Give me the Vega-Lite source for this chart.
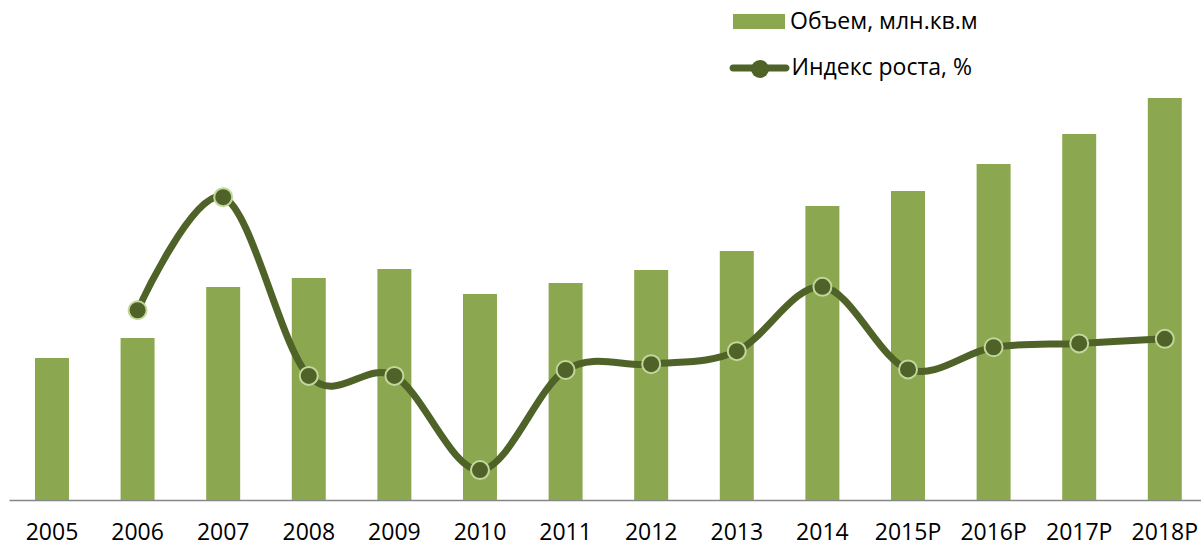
{
  "$schema": "https://vega.github.io/schema/vega-lite/v6.json",
  "autosize": "none",
  "width": 1192,
  "height": 490,
  "padding": {"left": 9, "top": 10, "right": 0, "bottom": 45},
  "config": {"view": {"stroke": null}, "font": "Open Sans"},
  "data": {"values": [
    {"year": "2005", "vol": 14.2, "idx": null},
    {"year": "2006", "vol": 16.2, "idx": 113.6},
    {"year": "2007", "vol": 21.3, "idx": 131.0},
    {"year": "2008", "vol": 22.2, "idx": 103.5},
    {"year": "2009", "vol": 23.1, "idx": 103.5},
    {"year": "2010", "vol": 20.6, "idx": 89.0},
    {"year": "2011", "vol": 21.7, "idx": 104.4},
    {"year": "2012", "vol": 23.0, "idx": 105.3},
    {"year": "2013", "vol": 24.9, "idx": 107.3},
    {"year": "2014", "vol": 29.4, "idx": 117.2},
    {"year": "2015P", "vol": 30.9, "idx": 104.5},
    {"year": "2016P", "vol": 33.6, "idx": 107.9},
    {"year": "2017P", "vol": 36.6, "idx": 108.5},
    {"year": "2018P", "vol": 40.2, "idx": 109.2}
  ]},
  "encoding": {
    "x": {
      "field": "year", "type": "nominal", "sort": null,
      "scale": {"paddingInner": 0.603, "paddingOuter": 0.264, "align": 0.575},
      "axis": {
        "title": null, "labelAngle": 0, "ticks": false, "grid": false,
        "domainColor": "#868686", "domainWidth": 1.5,
        "labelFontSize": 23, "labelColor": "#000000", "labelFont": "Open Sans",
        "labelBaseline": "alphabetic", "labelPadding": 39
      }
    }
  },
  "layer": [
    {
      "mark": {"type": "bar"},
      "encoding": {
        "y": {"field": "vol", "type": "quantitative", "scale": {"domain": [0, 49]}, "axis": null},
        "fill": {
          "datum": "Объем, млн.кв.м",
          "scale": {"range": ["#8BA74F"]},
          "legend": {
            "orient": "none", "legendX": 724, "legendY": -14.5, "title": null,
            "symbolType": "M-1,-0.2885H1V0.2885H-1Z", "symbolSize": 2704,
            "symbolFillColor": "#8BA74F", "symbolStrokeWidth": 0,
            "labelFontSize": 23, "labelFont": "Open Sans", "labelColor": "#000000",
            "labelLimit": 400, "labelOffset": 5
          }
        }
      }
    },
    {
      "transform": [{"filter": "datum.idx != null"}],
      "mark": {"type": "line", "interpolate": "cardinal", "strokeWidth": 7, "strokeCap": "round"},
      "encoding": {
        "y": {"field": "idx", "type": "quantitative", "scale": {"domain": [84.4, 159.8]}, "axis": null},
        "stroke": {
          "datum": "Индекс роста, %",
          "scale": {"range": ["#4F6228"]},
          "legend": {
            "orient": "none", "legendX": 720.5, "legendY": 28, "title": null,
            "symbolType": "M-0.883,-0.117H0.883A0.117,0.117,0,0,1,0.883,0.117H-0.883A0.117,0.117,0,0,1,-0.883,-0.117Z", "symbolSize": 3600,
            "symbolFillColor": "#4F6228", "symbolStrokeWidth": 0,
            "labelFontSize": 23, "labelFont": "Open Sans", "labelColor": "#000000",
            "labelLimit": 400, "labelOffset": 2
          }
        }
      }
    },
    {
      "transform": [{"filter": "datum.idx != null"}],
      "mark": {"type": "point", "filled": true, "size": 324, "fill": "#4F6228", "stroke": "#C3D69B", "strokeWidth": 2, "opacity": 1},
      "encoding": {
        "y": {"field": "idx", "type": "quantitative", "scale": {"domain": [84.4, 159.8]}, "axis": null},
        "shape": {
          "datum": "точки",
          "scale": {"range": ["circle"]},
          "legend": {
            "orient": "none", "legendX": 741, "legendY": 49, "title": null,
            "symbolSize": 324, "symbolFillColor": "#4F6228", "symbolStrokeColor": "#C3D69B",
            "symbolStrokeWidth": 2, "labelExpr": "''", "labelFontSize": 1
          }
        }
      }
    }
  ],
  "resolve": {"scale": {"y": "independent"}}
}
